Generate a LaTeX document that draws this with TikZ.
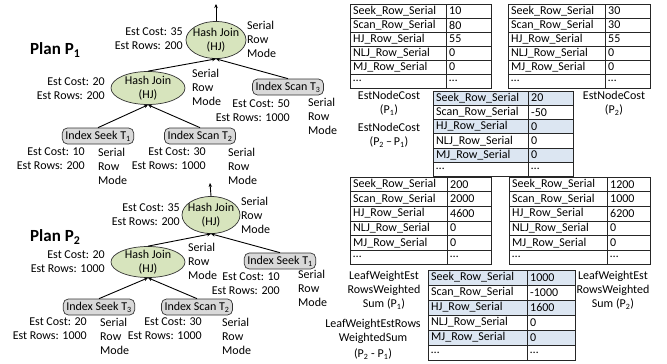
\documentclass[tikz,border=0pt]{standalone}
\usepackage{fontspec}
\setmainfont{Carlito}
\usetikzlibrary{arrows.meta,shapes.geometric}
\definecolor{hjgreen}{RGB}{215,228,189}
\definecolor{boxgray}{RGB}{217,217,217}
\definecolor{tblue}{RGB}{220,230,242}
\newcommand{\stab}[7]{%
  \foreach \lab/\val/\fil [count=\i] in {#7}{%
    \pgfmathsetmacro{\ya}{#5+(\i-1)*#6}%
    \pgfmathsetmacro{\yb}{#5+\i*#6}%
    \pgfmathsetmacro{\ym}{#5+(\i-0.5)*#6}%
    \draw[tblline,fill=\fil] (#2,\ya) rectangle (#3,\yb);
    \draw[tblline,fill=\fil] (#3,\ya) rectangle (#4,\yb);
    \node[cell] (#1-l\i) at (#2,\ym) {\lab};
    \node[cell] (#1-v\i) at (#3,\ym) {\val};
  }}
\begin{document}
\begin{tikzpicture}[x=1pt,y=-1pt,
  txt/.style={font=\fontsize{12}{14}\selectfont,inner sep=0pt},
  lblr/.style={txt,align=right,anchor=east},
  lbll/.style={txt,align=left,anchor=west},
  lblc/.style={txt,align=center},
  hj/.style={ellipse,draw=black!80,fill=hjgreen,line width=0.7pt,inner sep=0pt},
  opbox/.style={rounded corners=5pt,draw=black!80,fill=boxgray,line width=0.7pt,
     font=\fontsize{12}{14}\selectfont,inner xsep=3pt,inner ysep=1pt,minimum height=16pt},
  edge/.style={line width=0.9pt,-{Stealth[length=4pt,width=3.5pt]}},
  tblline/.style={draw=black!85,line width=0.6pt},
  cell/.style={txt,anchor=west,xshift=3pt},
  plan/.style={font=\fontsize{17}{20}\bfseries\selectfont,inner sep=0pt,anchor=west}]
\useasboundingbox (0,0) rectangle (667,364);

% ---------------- Plan P1 ----------------
\node[plan] (p1) at (30,50) {Plan P\textsubscript{1}};
\node[hj,minimum width=60pt,minimum height=37pt] (hj1a) at (216,40) {};
\node[lblc] (hj1at) at (hj1a) {Hash Join\\(HJ)};
\coordinate (out1) at (216,4);
\draw[edge] (hj1a.north) -- (out1);
\node[hj,minimum width=74pt,minimum height=33pt] (hj1b) at (148,88) {};
\node[lblc] (hj1bt) at (hj1b) {Hash Join\\(HJ)};
\node[opbox] (is3) at (288,87) {Index Scan T\textsubscript{3}};
\node[opbox] (ik1) at (98,136) {Index Seek T\textsubscript{1}};
\node[opbox] (is2) at (200,136) {Index Scan T\textsubscript{2}};
\draw[edge] (hj1b.north) -- (hj1a.south);
\draw[edge] (is3.north) -- (hj1a.south);
\draw[edge] (ik1.north) -- (hj1b.south);
\draw[edge] (is2.north) -- (hj1b.south);

\node[lblr] (c1a) at (183,38.5) {Est Cost: 35\\Est Rows: 200};
\node[lbll] (m1a) at (247,39) {Serial\\Row\\Mode};
\node[lblr] (c1b) at (105,88.5) {Est Cost: 20\\Est Rows: 200};
\node[lbll] (m1b) at (192,87) {Serial\\Row\\Mode};
\node[lblr] (c1c) at (290,111) {Est Cost: 50\\Est Rows: 1000};
\node[lbll] (m1c) at (308,116) {Serial\\Row\\Mode};
\node[lblr] (c1d) at (85,159) {Est Cost: 10\\Est Rows: 200};
\node[lbll] (m1d) at (98,166) {Serial\\Row\\Mode};
\node[lblr] (c1e) at (206,159) {Est Cost: 30\\Est Rows: 1000};
\node[lbll] (m1e) at (228,166) {Serial\\Row\\Mode};

% ---------------- Plan P2 ----------------
\node[plan] (p2) at (30,237) {Plan P\textsubscript{2}};
\node[hj,minimum width=58pt,minimum height=37pt] (hj2a) at (211,215) {};
\node[lblc] (hj2at) at (hj2a) {Hash Join\\(HJ)};
\coordinate (out2) at (210,183);
\draw[edge] (hj2a.north) -- (out2);
\node[hj,minimum width=74pt,minimum height=31pt] (hj2b) at (148,262) {};
\node[lblc] (hj2bt) at (hj2b) {Hash Join\\(HJ)};
\node[opbox] (k1) at (280,261) {Index Seek T\textsubscript{1}};
\node[opbox] (k3) at (99,307) {Index Seek T\textsubscript{3}};
\node[opbox] (s2) at (197,307) {Index Scan T\textsubscript{2}};
\draw[edge] (hj2b.north) -- (hj2a.south);
\draw[edge] (k1.north) -- (hj2a.south);
\draw[edge] (k3.north) -- (hj2b.south);
\draw[edge] (s2.north) -- (hj2b.south);

\node[lblr] (c2a) at (180,215) {Est Cost: 35\\Est Rows: 200};
\node[lbll] (m2a) at (241,215) {Serial\\Row\\Mode};
\node[lblr] (c2b) at (105,262) {Est Cost: 20\\Est Rows: 1000};
\node[lbll] (m2b) at (188,261) {Serial\\Row\\Mode};
\node[lblr] (c2c) at (280,284) {Est Cost: 10\\Est Rows: 200};
\node[lbll] (m2c) at (298,288) {Serial\\Row\\Mode};
\node[lblr] (c2d) at (87,329) {Est Cost: 20\\Est Rows: 1000};
\node[lbll] (m2d) at (100,336) {Serial\\Row\\Mode};
\node[lblr] (c2e) at (202,329) {Est Cost: 30\\Est Rows: 1000};
\node[lbll] (m2e) at (222,336) {Serial\\Row\\Mode};

% ---------------- Tables ----------------
\stab{ta}{350}{446}{491}{4}{14}{Seek\_Row\_Serial/10/white,Scan\_Row\_Serial/80/white,HJ\_Row\_Serial/55/white,NLJ\_Row\_Serial/0/white,MJ\_Row\_Serial/0/white,\dots/\dots/white}
\stab{tb}{508}{605}{650}{4}{14}{Seek\_Row\_Serial/30/white,Scan\_Row\_Serial/30/white,HJ\_Row\_Serial/55/white,NLJ\_Row\_Serial/0/white,MJ\_Row\_Serial/0/white,\dots/\dots/white}
\stab{tc}{433}{528}{573}{91}{14.2}{Seek\_Row\_Serial/20/tblue,Scan\_Row\_Serial/-50/white,HJ\_Row\_Serial/0/tblue,NLJ\_Row\_Serial/0/white,MJ\_Row\_Serial/0/tblue,\dots/\dots/white}
\stab{td}{350}{447}{491}{177}{14.6}{Seek\_Row\_Serial/200/white,Scan\_Row\_Serial/2000/white,HJ\_Row\_Serial/4600/white,NLJ\_Row\_Serial/0/white,MJ\_Row\_Serial/0/white,\dots/\dots/white}
\stab{te}{509}{607}{650}{177}{14.6}{Seek\_Row\_Serial/1200/white,Scan\_Row\_Serial/1000/white,HJ\_Row\_Serial/6200/white,NLJ\_Row\_Serial/0/white,MJ\_Row\_Serial/0/white,\dots/\dots/white}
\stab{tf}{428}{527}{575}{270}{15}{Seek\_Row\_Serial/1000/tblue,Scan\_Row\_Serial/-1000/white,HJ\_Row\_Serial/1600/tblue,NLJ\_Row\_Serial/0/white,MJ\_Row\_Serial/0/tblue,\dots/\dots/white}

\node[lblc] (en1) at (389,103) {EstNodeCost\\(P\textsubscript{1})};
\node[lblc] (en21) at (389,135) {EstNodeCost\\(P\textsubscript{2}\,–\,P\textsubscript{1})};
\node[lblc] (en2) at (614,103) {EstNodeCost\\(P\textsubscript{2})};
\node[lblc] (lw1) at (384,290) {LeafWeightEst\\RowsWeighted\\Sum (P\textsubscript{1})};
\node[lblc] (lw2) at (613,290) {LeafWeightEst\\RowsWeighted\\Sum (P\textsubscript{2})};
\node[lblc] (lw21) at (373,331) {LeafWeightEstRows\\WeightedSum};
\node[lblc] (lw21b) at (373,354) {(P\textsubscript{2} - P\textsubscript{1})};
\end{tikzpicture}
\end{document}
